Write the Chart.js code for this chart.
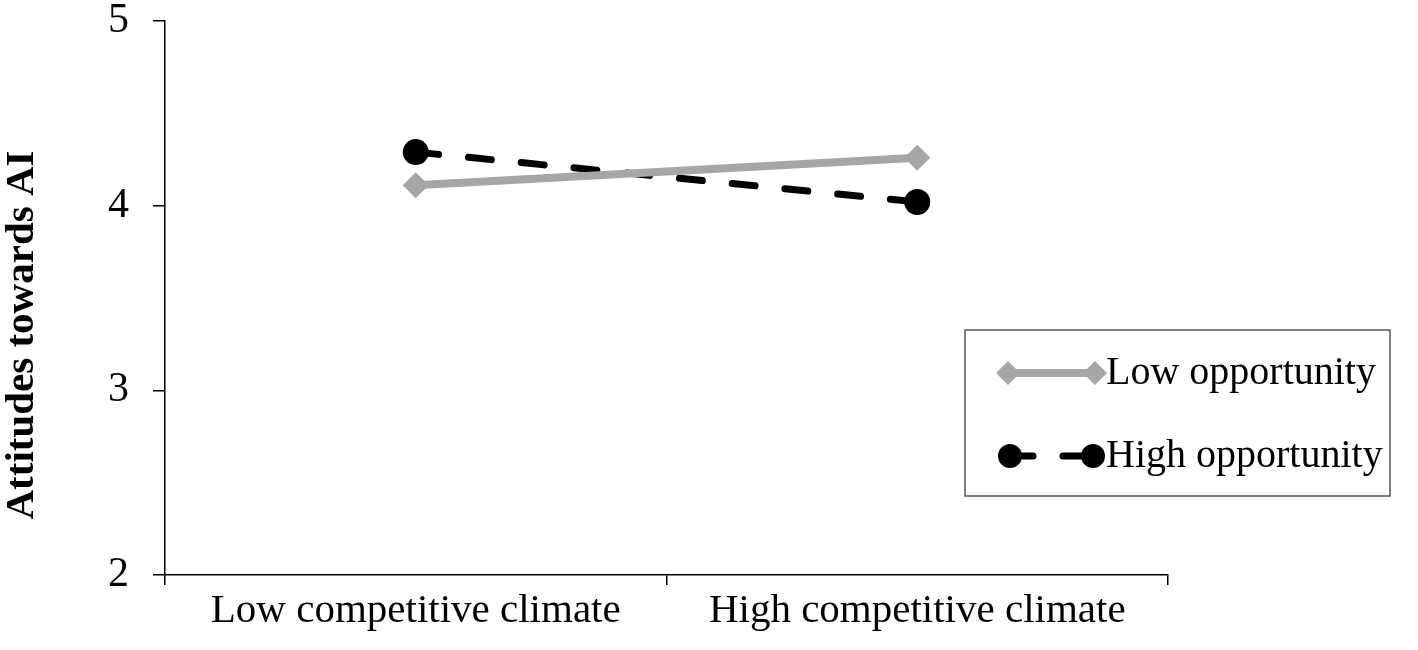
<!DOCTYPE html>
<html lang="en">
<head>
    <meta charset="UTF-8">
    <title>Attitudes towards AI</title>
    <style>
        html, body { margin: 0; padding: 0; background: #fff; }
        #wrap { width: 1418px; height: 650px; }
    </style>
</head>
<body>
    <div id="wrap"><canvas id="myChart" width="1418" height="650"></canvas></div>
    <script src="https://cdn.jsdelivr.net/npm/chart.js"></script>
    <script>
        // datos
        const categories = ['Low competitive climate', 'High competitive climate'];
        const lowOpportunity = [4.11, 4.26];
        const highOpportunity = [4.29, 4.02];
        const yTicks = [2, 3, 4, 5];
        const yTitle = 'Attitudes towards AI';

        const serif = '"Liberation Serif", "Times New Roman", serif';

        // titulo del eje y y leyenda en recuadro, dibujados a mano
        const boxLegend = {
            id: 'boxLegend',
            afterDraw(chart) {
                const ctx = chart.ctx;
                ctx.save();

                ctx.save();
                ctx.translate(22, 335);
                ctx.rotate(-Math.PI / 2);
                ctx.fillStyle = '#000';
                ctx.font = 'bold 41px ' + serif;
                ctx.textAlign = 'center';
                ctx.textBaseline = 'middle';
                ctx.fillText(yTitle, 0, 0);
                ctx.restore();

                ctx.strokeStyle = '#555';
                ctx.lineWidth = 1.5;
                ctx.strokeRect(965, 330, 425, 166);

                // Low opportunity
                ctx.strokeStyle = '#a6a6a6';
                ctx.lineWidth = 8;
                ctx.beginPath();
                ctx.moveTo(1008, 373);
                ctx.lineTo(1095, 373);
                ctx.stroke();
                ctx.fillStyle = '#a6a6a6';
                [1008, 1095].forEach(x => {
                    ctx.beginPath();
                    ctx.moveTo(x - 12, 373);
                    ctx.lineTo(x, 361);
                    ctx.lineTo(x + 12, 373);
                    ctx.lineTo(x, 385);
                    ctx.closePath();
                    ctx.fill();
                });

                // High opportunity
                ctx.strokeStyle = '#000';
                ctx.lineWidth = 7;
                ctx.lineCap = 'round';
                ctx.setLineDash([23, 30]);
                ctx.beginPath();
                ctx.moveTo(1010, 456);
                ctx.lineTo(1093, 456);
                ctx.stroke();
                ctx.setLineDash([]);
                ctx.fillStyle = '#000';
                [1010, 1093].forEach(x => {
                    ctx.beginPath();
                    ctx.arc(x, 456, 12, 0, Math.PI * 2);
                    ctx.fill();
                });

                ctx.fillStyle = '#000';
                ctx.font = '40px ' + serif;
                ctx.textBaseline = 'middle';
                ctx.fillText('Low opportunity', 1106, 373);
                ctx.fillText('High opportunity', 1106, 456);
                ctx.restore();
            }
        };

        const ctx = document.getElementById('myChart').getContext('2d');
        new Chart(ctx, {
            type: 'line',
            data: {
                labels: categories,
                datasets: [
                    {
                        label: 'Low opportunity',
                        data: lowOpportunity,
                        borderColor: '#a6a6a6',
                        backgroundColor: '#a6a6a6',
                        borderWidth: 8,
                        pointStyle: 'rectRot',
                        pointRadius: 13,
                        pointBorderWidth: 0,
                        tension: 0
                    },
                    {
                        label: 'High opportunity',
                        data: highOpportunity,
                        borderColor: '#000',
                        backgroundColor: '#000',
                        borderWidth: 7,
                        borderDash: [23, 30],
                        borderCapStyle: 'round',
                        pointStyle: 'circle',
                        pointRadius: 13,
                        pointBorderWidth: 0,
                        tension: 0
                    }
                ]
            },
            options: {
                responsive: false,
                animation: false,
                layout: { padding: { top: 21, right: 250, left: 0, bottom: 0 } },
                plugins: {
                    legend: { display: false },
                    tooltip: { enabled: false }
                },
                scales: {
                    x: {
                        offset: true,
                        grid: {
                            offset: true,
                            drawOnChartArea: false,
                            drawTicks: true,
                            tickLength: 10,
                            color: '#000',
                            lineWidth: 1.5
                        },
                        border: { color: '#000', width: 1.5 },
                        ticks: {
                            color: '#000',
                            font: { family: serif, size: 41 },
                            padding: 2,
                            maxRotation: 0
                        },
                        afterFit(scale) { scale.height = 75; }
                    },
                    y: {
                        min: 2,
                        max: 5,
                        afterBuildTicks(scale) {
                            scale.ticks = yTicks.map(v => ({ value: v }));
                        },
                        grid: {
                            drawOnChartArea: false,
                            drawTicks: true,
                            tickLength: 12,
                            color: '#000',
                            lineWidth: 1.5
                        },
                        border: { color: '#000', width: 1.5 },
                        ticks: {
                            color: '#000',
                            font: { family: serif, size: 42 },
                            padding: 24
                        },
                        afterFit(scale) {
                            scale.width = 165;
                            scale.paddingTop = 0;
                            scale.paddingBottom = 0;
                        }
                    }
                }
            },
            plugins: [boxLegend]
        });
    </script>
</body>
</html>
